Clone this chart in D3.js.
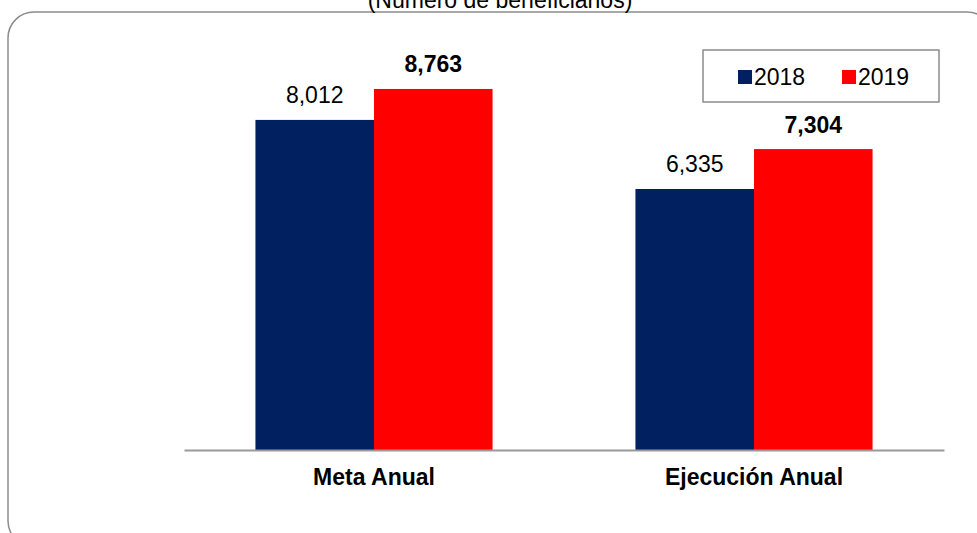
<!DOCTYPE html>
<html>
<head>
<meta charset="utf-8">
<script src="https://cdn.jsdelivr.net/npm/d3@7"></script>
<style>
  body { margin: 0; background: #fff; }
  svg { font-family: "Liberation Sans", Arial, sans-serif; }
</style>
</head>
<body>
<figure id="grafico" style="margin:0"></figure>
<script>
var categorias = ['Meta Anual', 'Ejecución Anual'];
var series = ['2018', '2019'];
var valores2018 = [8012, 6335];
var valores2019 = [8763, 7304];
var colores = ['#002060', '#ff0000'];

var data = categorias.map(function(c, i) {
  return { cat: c, vals: [valores2018[i], valores2019[i]] };
});

var W = 977, H = 533;
var svg = d3.select('#grafico').append('svg')
  .attr('width', W)
  .attr('height', H);

// marco redondeado
svg.append('rect')
  .attr('x', 8).attr('y', 12)
  .attr('width', 985).attr('height', 535)
  .attr('rx', 26).attr('ry', 26)
  .style('fill', 'none')
  .style('stroke', '#8c8c8c')
  .style('stroke-width', 1.5);

// titulo (cortado arriba, como en el original)
svg.append('text')
  .attr('x', 500).attr('y', 8)
  .attr('text-anchor', 'middle')
  .style('font-size', '23px')
  .text('(Número de beneficiarios)');

var x = d3.scaleBand()
  .domain(categorias)
  .range([184, 944])
  .paddingInner(0.376)
  .paddingOuter(0.188);

var xs = d3.scaleBand()
  .domain(series)
  .range([0, x.bandwidth()]);

var y = d3.scaleLinear()
  .domain([0, 10000])
  .range([450, 38]);

var grupos = svg.append('g').selectAll('g')
  .data(data)
  .enter().append('g')
  .attr('transform', function(d) { return 'translate(' + x(d.cat) + ',0)'; });

grupos.selectAll('rect')
  .data(function(d) { return d.vals; })
  .enter().append('rect')
  .attr('x', function(d, i) { return xs(series[i]); })
  .attr('y', function(d) { return y(d); })
  .attr('width', xs.bandwidth())
  .attr('height', function(d) { return y(0) - y(d); })
  .style('fill', function(d, i) { return colores[i]; });

grupos.selectAll('text.valor')
  .data(function(d) { return d.vals; })
  .enter().append('text')
  .classed('valor', true)
  .attr('x', function(d, i) { return xs(series[i]) + xs.bandwidth() / 2; })
  .attr('y', function(d) { return y(d) - 16.5; })
  .attr('text-anchor', 'middle')
  .style('font-size', '23px')
  .style('font-weight', function(d, i) { return i === 1 ? 'bold' : 'normal'; })
  .text(function(d) { return d3.format(',')(d); });

// eje x
var eje = svg.append('g')
  .attr('transform', 'translate(0,' + y(0) + ')')
  .call(d3.axisBottom(x).tickSize(0).tickPadding(19));
eje.select('.domain')
  .attr('stroke', '#999')
  .attr('stroke-width', 2);
eje.selectAll('text')
  .style('font-family', '"Liberation Sans", Arial, sans-serif')
  .style('font-size', '23px')
  .style('font-weight', 'bold')
  .attr('fill', '#000');

// leyenda
var leyenda = svg.append('g');
leyenda.append('rect')
  .attr('x', 703).attr('y', 50)
  .attr('width', 236).attr('height', 52)
  .style('fill', '#fff')
  .style('stroke', '#8c8c8c')
  .style('stroke-width', 1.5);
var lx = [738, 842];
series.forEach(function(s, i) {
  leyenda.append('rect')
    .attr('x', lx[i]).attr('y', 70)
    .attr('width', 14).attr('height', 14)
    .style('fill', colores[i]);
  leyenda.append('text')
    .attr('x', lx[i] + 16).attr('y', 85)
    .style('font-size', '23px')
    .text(s);
});
</script>
</body>
</html>
